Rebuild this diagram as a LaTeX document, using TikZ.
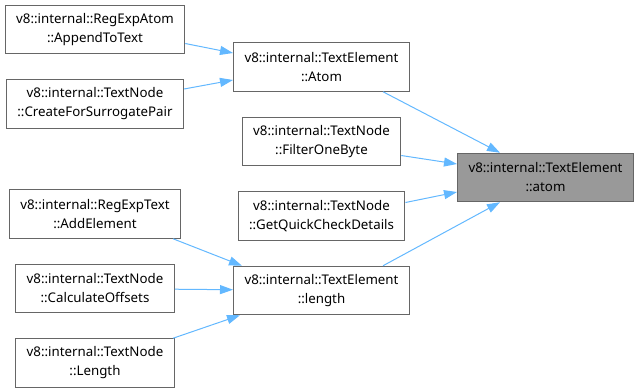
\documentclass[tikz,border=0pt]{standalone}
\usepackage{fontspec}
\setmainfont{Noto Sans}
\usepackage{xcolor}
\usepackage{tikz}
\usetikzlibrary{arrows.meta, positioning}
\definecolor{edgeblue}{HTML}{63B8FF}
\definecolor{boxgray}{HTML}{666666}
\definecolor{rootfill}{HTML}{999999}

\begin{document}
\begin{tikzpicture}[x=1bp, y=-1bp,
      node distance=25bp and 48bp,
      fnbox/.style={rectangle, draw=boxgray, line width=1bp, fill=white,
        align=center, inner xsep=11bp, inner ysep=0pt, minimum height=48.5bp,
        font=\fontsize{13.3bp}{19bp}\selectfont},
      rootbox/.style={fnbox, fill=rootfill},
      call/.style={-{Triangle[length=13bp, width=9bp]}, edgeblue, line width=1bp}]
    \useasboundingbox (0,0) rectangle (640,390);
    \node[rootbox] (atom) at (545.5,177.5) {v8::internal::TextElement\\::atom};
    \node[fnbox] (elematom) at (321.5,67) {v8::internal::TextElement\\::Atom};
    \node[fnbox, below=of elematom] (filter) {v8::internal::TextNode\\::FilterOneByte};
    \node[fnbox, below=of filter] (quickcheck) {v8::internal::TextNode\\::GetQuickCheckDetails};
    \node[fnbox, below=of quickcheck] (elemlength) {v8::internal::TextElement\\::length};
    \node[fnbox] (appendtext) at (95,29.5) {v8::internal::RegExpAtom\\::AppendToText};
    \node[fnbox, below=of appendtext] (surrogate) {v8::internal::TextNode\\::CreateForSurrogatePair};
    \node[fnbox] (addelement) at (95,214) {v8::internal::RegExpText\\::AddElement};
    \node[fnbox, below=of addelement] (offsets) {v8::internal::TextNode\\::CalculateOffsets};
    \node[fnbox, below=of offsets] (nodelength) {v8::internal::TextNode\\::Length};
    \draw[call] ([yshift=-14bp]appendtext.east) -- ([yshift=14bp]elematom.west);
    \draw[call] ([yshift=15bp]surrogate.east) -- ([yshift=-13bp]elematom.west);
    \draw[call] ([xshift=61.5bp]elematom.south) -- ([xshift=-45.5bp]atom.north);
    \draw[call] ([yshift=-14bp]filter.east) -- ([yshift=13.5bp]atom.west);
    \draw[call] ([yshift=13.5bp]quickcheck.east) -- ([yshift=-14.5bp]atom.west);
    \draw[call] ([xshift=61.5bp]elemlength.north) -- ([xshift=-45.5bp]atom.south);
    \draw[call] ([xshift=78bp]addelement.south) -- ([xshift=-79.5bp]elemlength.north);
    \draw[call] (offsets) -- (elemlength);
    \draw[call] ([xshift=78bp]nodelength.north) -- ([xshift=-81.5bp]elemlength.south);
  \end{tikzpicture}
\end{document}
